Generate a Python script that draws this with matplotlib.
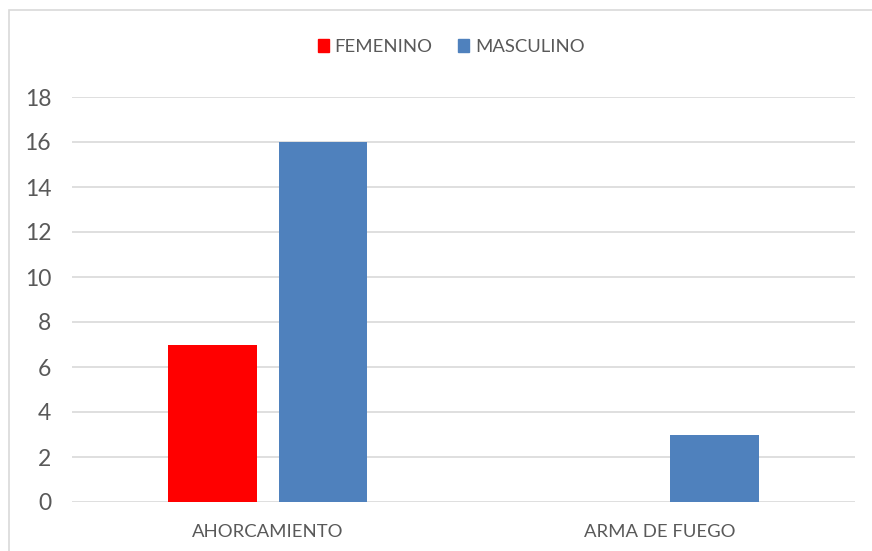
import matplotlib
matplotlib.use("Agg")
import matplotlib.pyplot as plt
from matplotlib.patches import Rectangle, Patch

categories = ["AHORCAMIENTO", "ARMA DE FUEGO"]
series_names = ["FEMENINO", "MASCULINO"]
femenino = [7, 0]
masculino = [16, 3]
yticks = [0, 2, 4, 6, 8, 10, 12, 14, 16, 18]

plt.rcParams['font.family'] = ['Lato', 'DejaVu Sans']
W, H = 872, 551
fig = plt.figure(figsize=(W / 100, H / 100), dpi=100)
fig.patch.set_facecolor("white")

# outer chart border
fig.patches.append(Rectangle((9 / W, -0.1), 1.2, (H - 10) / H + 0.1,
                             transform=fig.transFigure, fill=False,
                             edgecolor="#d9d9d9", linewidth=1.2, clip_on=False))

ax = fig.add_axes([72 / W, (H - 502) / H, (855 - 72) / W, (502 - 97) / H])
x = list(range(len(categories)))
bw = 0.226
off = 0.141
ax.bar([i - off for i in x], femenino, width=bw, color="#ff0000", zorder=3)
ax.bar([i + off for i in x], masculino, width=bw, color="#4f81bd", zorder=3)

ax.set_xlim(-0.5, 1.5)
ax.set_ylim(0, 18)
ax.set_yticks(yticks)
ax.set_yticklabels([str(v) for v in yticks])
ax.set_xticks(x)
ax.set_xticklabels(categories)
ax.grid(axis="y", color="#d9d9d9", linewidth=1.2, zorder=0)
for s in ax.spines.values():
    s.set_visible(False)
ax.tick_params(axis="both", length=0, colors="#595959")
ax.tick_params(axis="y", labelsize=16.5, pad=15)
ax.tick_params(axis="x", labelsize=13.3, pad=16)

handles = [Patch(color="#ff0000"), Patch(color="#4f81bd")]
leg = fig.legend(handles, series_names, loc="center", bbox_to_anchor=(451 / W, 1 - 47 / H),
                 ncol=2, frameon=False, fontsize=13.3, handlelength=0.63, handleheight=0.63,
                 handletextpad=0.3, columnspacing=1.35, labelcolor="#595959")

fig.savefig("out.png", dpi=100, facecolor="white")
